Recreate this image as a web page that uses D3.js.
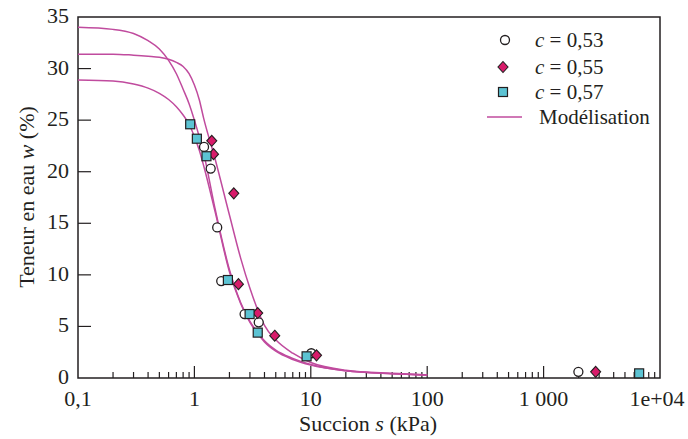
<!DOCTYPE html>
<html><head><meta charset="utf-8">
<script src="https://cdn.jsdelivr.net/npm/d3@7"></script>
<style>body{margin:0;background:#fff}svg{display:block}
svg text{font-family:"Liberation Serif","Times New Roman",Times,"DejaVu Serif",serif}</style>
</head><body>
<svg id="c" width="688" height="439"></svg>
<script>
// ---- data ----
const xTickValues = [0.1, 1, 10, 100, 1000, 10000];
const xTickLabels = ["0,1", "1", "10", "100", "1 000", "1e+04"];
const yTickValues = [0, 5, 10, 15, 20, 25, 30, 35];

const c53_s = [1.21, 1.38, 1.57, 1.70, 2.7, 3.57, 10.1, 1990];
const c53_w = [22.4, 20.3, 14.6, 9.4, 6.2, 5.4, 2.4, 0.6];
const c55_s = [1.41, 1.46, 2.18, 2.39, 3.5, 4.9, 11.2, 2800];
const c55_w = [23.0, 21.7, 17.9, 9.1, 6.3, 4.1, 2.2, 0.6];
const c57_s = [0.92, 1.05, 1.27, 1.94, 2.98, 3.5, 9.2, 6620];
const c57_w = [24.6, 23.2, 21.5, 9.5, 6.2, 4.4, 2.1, 0.45];

const model_s  = [0.1, 0.2, 0.3, 0.4, 0.5, 0.6, 0.7, 0.8, 0.9, 1.0, 1.1, 1.2, 1.5, 2.0, 2.5, 3.0, 3.5, 4.0, 5.0, 7.0, 10, 20, 50, 100];
const model1_w = [34.0, 33.8, 33.4, 32.7, 31.9, 30.8, 29.5, 28.0, 26.6, 25.0, 23.4, 21.8, 16.5, 10.5, 7.3, 5.5, 4.4, 3.6, 2.7, 1.9, 1.3, 0.7, 0.42, 0.3];
const model2_w = [31.4, 31.4, 31.3, 31.2, 31.1, 30.9, 30.6, 30.2, 29.5, 28.4, 27.0, 25.2, 21.3, 15.8, 11.6, 8.7, 6.6, 5.1, 3.7, 2.4, 1.5, 0.75, 0.45, 0.3];
const model3_w = [28.9, 28.8, 28.5, 28.1, 27.6, 27.0, 26.3, 25.5, 24.6, 23.4, 22.1, 20.6, 16.2, 10.3, 7.2, 5.4, 4.3, 3.5, 2.6, 1.8, 1.25, 0.7, 0.42, 0.3];

const legendLabels = ["0,53", "0,55", "0,57", "Modélisation"];

// ---- layout ----
const L = 78, R = 660, T = 17, B = 378;
const svg = d3.select("#c");
const ink = "#231f20";
const lineCol = "#c04b9e";
const diaFill = "#d81b6a";
const sqFill = "#5cc3d3";

const x = d3.scaleLog().domain([0.1, 10000]).range([L, R]);
const y = d3.scaleLinear().domain([0, 35]).range([B, T]);

// frame
svg.append("rect").attr("x", L).attr("y", T).attr("width", R - L).attr("height", B - T)
  .attr("fill", "none").attr("stroke", ink).attr("stroke-width", 1.5);

// x ticks (inside)
const minor = [];
for (let d = 0.1; d < 10000; d *= 10) for (let k = 2; k <= 9; k++) minor.push(+(d * k).toPrecision(3));
const gx = svg.append("g");
gx.selectAll("line.mi").data(minor).enter().append("line")
  .attr("x1", d => x(d)).attr("x2", d => x(d)).attr("y1", B).attr("y2", B - 6)
  .attr("stroke", ink).attr("stroke-width", 1.2);
gx.selectAll("line.ma").data(xTickValues.slice(1, -1)).enter().append("line")
  .attr("x1", d => x(d)).attr("x2", d => x(d)).attr("y1", B).attr("y2", B - 12)
  .attr("stroke", ink).attr("stroke-width", 1.2);
gx.selectAll("text").data(xTickValues).enter().append("text")
  .attr("x", (d, i) => x(d) + (i === xTickValues.length - 1 ? -3 : 0)).attr("y", B + 28)
  .attr("text-anchor", "middle").attr("font-size", 22).attr("fill", ink)
  .text((d, i) => xTickLabels[i]);

// y ticks
const gy = svg.append("g");
gy.selectAll("line").data(yTickValues.slice(1, -1)).enter().append("line")
  .attr("x1", L).attr("x2", L + 13).attr("y1", d => y(d)).attr("y2", d => y(d))
  .attr("stroke", ink).attr("stroke-width", 1.2);
gy.selectAll("text").data(yTickValues).enter().append("text")
  .attr("x", L - 9).attr("y", d => y(d) + 6)
  .attr("text-anchor", "end").attr("font-size", 22).attr("fill", ink)
  .text(d => d);

// axis titles
const xt = svg.append("text").attr("x", 368).attr("y", 431).attr("text-anchor", "middle")
  .attr("font-size", 22).attr("fill", ink);
xt.append("tspan").text("Succion ");
xt.append("tspan").attr("font-style", "italic").text("s");
xt.append("tspan").text(" (kPa)");
const yt = svg.append("text").attr("transform", "translate(34,197) rotate(-90)").attr("text-anchor", "middle")
  .attr("font-size", 22).attr("fill", ink);
yt.append("tspan").text("Teneur en eau ");
yt.append("tspan").attr("font-style", "italic").text("w");
yt.append("tspan").text(" (%)");

// model curves
const line = d3.line().x(d => x(d[0])).y(d => y(d[1])).curve(d3.curveMonotoneX);
[model1_w, model2_w, model3_w].forEach(ws => {
  svg.append("path").datum(model_s.map((s, i) => [s, ws[i]]))
    .attr("d", line).attr("fill", "none").attr("stroke", lineCol).attr("stroke-width", 1.5);
});

// markers
function circle(g, cx, cy) {
  g.append("circle").attr("cx", cx).attr("cy", cy).attr("r", 4.5)
    .attr("fill", "#fff").attr("stroke", ink).attr("stroke-width", 1.3);
}
function diamond(g, cx, cy) {
  g.append("path").attr("transform", `translate(${cx},${cy})`).attr("d", "M0,-5.5L5,0L0,5.5L-5,0Z")
    .attr("fill", diaFill).attr("stroke", ink).attr("stroke-width", 1.1);
}
function square(g, cx, cy) {
  g.append("rect").attr("x", cx - 4.5).attr("y", cy - 4.5).attr("width", 9).attr("height", 9)
    .attr("fill", sqFill).attr("stroke", ink).attr("stroke-width", 1.2);
}
const gp = svg.append("g");
c53_s.forEach((s, i) => circle(gp, x(s), y(c53_w[i])));
c55_s.forEach((s, i) => diamond(gp, x(s), y(c55_w[i])));
c57_s.forEach((s, i) => square(gp, x(s), y(c57_w[i])));

// legend
const lg = svg.append("g");
const rows = [40, 67, 92, 117];
circle(lg, 505, rows[0]);
diamond(lg, 503, rows[1]);
square(lg, 503, rows[2]);
lg.append("line").attr("x1", 487).attr("x2", 522).attr("y1", rows[3]).attr("y2", rows[3])
  .attr("stroke", lineCol).attr("stroke-width", 1.5);
for (let i = 0; i < 3; i++) {
  const t = lg.append("text").attr("x", 535).attr("y", rows[i] + 7)
    .attr("font-size", 21).attr("fill", ink);
  t.append("tspan").attr("font-style", "italic").text("c");
  t.append("tspan").text(" = " + legendLabels[i]);
}
lg.append("text").attr("x", 539).attr("y", rows[3] + 7)
  .attr("font-size", 21).attr("fill", ink).text(legendLabels[3]);
</script>
</body></html>
